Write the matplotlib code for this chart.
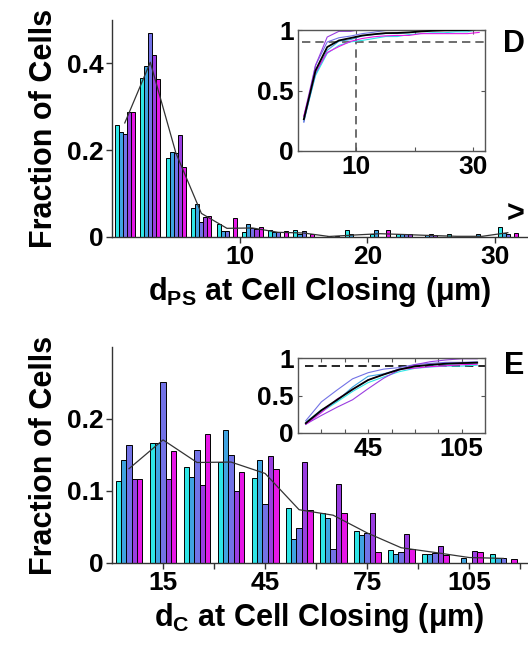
import numpy as np
import matplotlib
matplotlib.use("Agg")
import matplotlib.pyplot as plt

# ── Fonts ─────────────────────────────────────────────────────────────────────
plt.rcParams['font.family'] = ['Liberation Sans', 'DejaVu Sans']
plt.rcParams['font.weight'] = 'bold'
plt.rcParams['mathtext.fontset'] = 'custom'
plt.rcParams['mathtext.rm'] = 'Liberation Sans:bold'
plt.rcParams['mathtext.it'] = 'Liberation Sans:bold'
plt.rcParams['mathtext.bf'] = 'Liberation Sans:bold'

# ── Data: panel D (d_PS, 2 um bins, last bin = overflow) ──────────────────────
d_centers = [1, 3, 5, 7, 9, 11, 13, 15, 17, 19, 21, 23, 25, 27, 29, 31]
d_cyan    = [0.258, 0.366, 0.183, 0.066, 0.029, 0.012, 0.016, 0.016,
             0.000, 0.016, 0.008, 0.007, 0.000, 0.008, 0.000, 0.022]
d_steel   = [0.242, 0.393, 0.197, 0.075, 0.014, 0.030, 0.012, 0.008,
             0.000, 0.007, 0.015, 0.007, 0.005, 0.000, 0.008, 0.010]
d_blue    = [0.238, 0.470, 0.193, 0.035, 0.014, 0.020, 0.012, 0.014,
             0.003, 0.000, 0.000, 0.007, 0.007, 0.000, 0.000, 0.008]
d_purple  = [0.288, 0.420, 0.234, 0.047, 0.000, 0.018, 0.000, 0.000,
             0.000, 0.000, 0.000, 0.007, 0.005, 0.000, 0.000, 0.000]
d_magenta = [0.288, 0.364, 0.162, 0.049, 0.043, 0.024, 0.014, 0.008,
             0.003, 0.000, 0.015, 0.000, 0.000, 0.000, 0.000, 0.010]

# ── Data: panel E (d_C, 10 um bins) ───────────────────────────────────────────
e_centers = [5, 15, 25, 35, 45, 55, 65, 75, 85, 95, 105, 115]
e_cyan    = [0.114, 0.166, 0.134, 0.140, 0.118, 0.076, 0.070, 0.044,
             0.018, 0.012, 0.000, 0.012]
e_steel   = [0.143, 0.166, 0.119, 0.185, 0.143, 0.033, 0.063, 0.039,
             0.013, 0.013, 0.007, 0.007]
e_blue    = [0.164, 0.251, 0.157, 0.150, 0.082, 0.048, 0.020, 0.041,
             0.015, 0.014, 0.000, 0.007]
e_purple  = [0.117, 0.117, 0.109, 0.100, 0.148, 0.140, 0.110, 0.070,
             0.040, 0.023, 0.016, 0.000]
e_magenta = [0.117, 0.155, 0.179, 0.126, 0.131, 0.073, 0.069, 0.015,
             0.020, 0.011, 0.015, 0.006]

colors = ['#2ee6e6', '#3fa3e0', '#7272e6', '#9a3de0', '#e617e6']

TICK_FS  = 19
LABEL_FS = 22


def draw_hist(ax, centers, series, bin_w):
    """Grouped bars (5 per bin) plus the mean line across series."""
    centers = np.asarray(centers, dtype=float)
    bw = 0.158 * bin_w
    for i, (vals, c) in enumerate(zip(series, colors)):
        ax.bar(centers + (i - 2) * bw, vals, width=bw, color=c,
               edgecolor='black', linewidth=0.7, zorder=2)
    mean = np.mean(np.asarray(series), axis=0)
    ax.plot(centers, mean, color='#333333', linewidth=0.9, zorder=3)
    ax.spines['top'].set_visible(False)
    ax.spines['right'].set_visible(False)
    for s in ('left', 'bottom'):
        ax.spines[s].set_color('#333333')
        ax.spines[s].set_linewidth(1.0)
    ax.tick_params(direction='out', length=4, width=1, labelsize=TICK_FS,
                   color='#333333', pad=2)


def draw_cdf(ax, centers, series):
    """Cumulative curves of each series plus the mean (black)."""
    for vals, c in zip(series, colors):
        ax.plot(centers, np.cumsum(vals), color=c, linewidth=0.8, zorder=2)
    mean = np.mean(np.asarray(series), axis=0)
    ax.plot(centers, np.cumsum(mean), color='black', linewidth=1.3, zorder=3)
    for s in ax.spines.values():
        s.set_color('#555555')
        s.set_linewidth(1.0)
    ax.tick_params(direction='in', length=3, width=0.8, labelsize=TICK_FS,
                   top=True, right=True, color='#555555', pad=3)
    ax.set_ylim(0, 1)
    ax.set_yticks([0, 0.5, 1])
    ax.set_yticklabels(['0', '0.5', '1'])


fig = plt.figure(figsize=(5.28, 6.49), dpi=100)

# ── Panel D ───────────────────────────────────────────────────────────────────
axD = fig.add_axes([112 / 528, 1 - 237 / 649, 415 / 528, 217 / 649])
d_series = [d_cyan, d_steel, d_blue, d_purple, d_magenta]
draw_hist(axD, d_centers, d_series, 2.0)
axD.set_xlim(0, 32.5)
axD.set_ylim(0, 0.5)
axD.set_yticks([0, 0.2, 0.4])
axD.set_yticklabels(['0', '0.2', '0.4'])
axD.set_xticks([10, 20, 30])
axD.set_xlabel(r'd$_{\mathregular{PS}}$ at Cell Closing ($\mathregular{\mu}$m)',
               fontsize=LABEL_FS, fontweight='bold', labelpad=4)
axD.set_ylabel('Fraction of Cells', fontsize=LABEL_FS, fontweight='bold',
               labelpad=6)
axD.text(31.6, 0.05, '>', fontsize=22, fontweight='bold',
         ha='center', va='center', rotation=0)

insD = fig.add_axes([298 / 528, 1 - 151 / 649, 187 / 528, 121 / 649])
draw_cdf(insD, d_centers, d_series)
insD.set_xlim(0, 32)
insD.set_xticks([10, 20, 30])
insD.set_xticklabels(['10', '', '30'])
insD.axhline(0.9, xmin=0.02, xmax=1, color='#555555', linestyle='--',
             linewidth=1.2, dashes=(5, 3), zorder=1)
insD.axvline(10, color='#555555', linestyle='--', linewidth=1.2,
             dashes=(5, 3), zorder=1)

# ── Panel E ───────────────────────────────────────────────────────────────────
axE = fig.add_axes([112 / 528, 1 - 563 / 649, 415 / 528, 216 / 649])
e_series = [e_cyan, e_steel, e_blue, e_purple, e_magenta]
draw_hist(axE, e_centers, e_series, 10.0)
axE.set_xlim(0, 122)
axE.set_ylim(0, 0.3)
axE.set_yticks([0, 0.1, 0.2])
axE.set_yticklabels(['0', '0.1', '0.2'])
axE.set_xticks([15, 30, 45, 60, 75, 90, 105, 120])
axE.set_xticklabels(['15', '', '45', '', '75', '', '105', ''])
axE.set_xlabel(r'd$_{\mathregular{C}}$ at Cell Closing ($\mathregular{\mu}$m)',
               fontsize=LABEL_FS, fontweight='bold', labelpad=4)
axE.set_ylabel('Fraction of Cells', fontsize=LABEL_FS, fontweight='bold',
               labelpad=6)

insE = fig.add_axes([298 / 528, 1 - 433 / 649, 187 / 528, 75 / 649])
draw_cdf(insE, e_centers, e_series)
insE.set_xlim(0, 120)
insE.set_xticks([15, 30, 45, 60, 75, 90, 105])
insE.set_xticklabels(['', '', '45', '', '', '', '105'])
insE.axhline(0.9, xmin=0.04, xmax=1, color='black', linestyle='--',
             linewidth=1.2, dashes=(5, 3), zorder=1)

# ── Panel letters ─────────────────────────────────────────────────────────────
fig.text(514 / 528, 1 - 44 / 649, 'D', fontsize=22, fontweight='bold',
         ha='center', va='center')
fig.text(514 / 528, 1 - 366 / 649, 'E', fontsize=22, fontweight='bold',
         ha='center', va='center')

fig.savefig('out.png', dpi=100)
